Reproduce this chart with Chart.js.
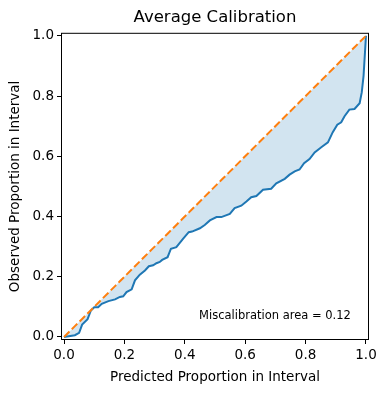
<!DOCTYPE html>
<html>
<head>
<meta charset="utf-8">
<script src="https://cdn.jsdelivr.net/npm/chart.js@4.4.0/dist/chart.umd.min.js"></script>
<style>
  body { margin: 0; background: #fff; }
  #wrap { width: 387px; height: 393px; }
</style>
</head>
<body>
<div id="wrap"><canvas id="calChart" width="387" height="393"></canvas></div>
<script>
// Valores
const predicted = [0, 0.036, 0.05, 0.06, 0.078, 0.089, 0.1, 0.113, 0.125, 0.147, 0.169, 0.185, 0.196, 0.207,
  0.224, 0.235, 0.251, 0.268, 0.281, 0.295, 0.306, 0.317, 0.325, 0.343, 0.354, 0.372, 0.394, 0.413,
  0.424, 0.45, 0.466, 0.483, 0.505, 0.521, 0.549, 0.565, 0.587, 0.604, 0.62, 0.637, 0.659, 0.686,
  0.703, 0.731, 0.747, 0.764, 0.78, 0.795, 0.813, 0.83, 0.852, 0.874, 0.89, 0.905, 0.918, 0.929,
  0.945, 0.962, 0.979, 0.986, 0.992, 1.0];
const observed = [0, 0.006, 0.014, 0.041, 0.059, 0.088, 0.099, 0.099, 0.11, 0.119, 0.125, 0.133, 0.135, 0.149,
  0.158, 0.188, 0.207, 0.221, 0.235, 0.238, 0.245, 0.249, 0.256, 0.265, 0.293, 0.298, 0.326, 0.348,
  0.35, 0.361, 0.372, 0.387, 0.398, 0.398, 0.409, 0.428, 0.436, 0.45, 0.464, 0.468, 0.489, 0.492,
  0.51, 0.525, 0.539, 0.55, 0.556, 0.577, 0.591, 0.613, 0.63, 0.646, 0.68, 0.705, 0.713, 0.733,
  0.755, 0.757, 0.776, 0.812, 0.867, 1.0];
const tickValues = [0, 0.2, 0.4, 0.6, 0.8, 1.0];
const miscalArea = 0.12;

const font = "'DejaVu Sans', sans-serif";

// Pontos das duas curvas
const curvePoints = predicted.map((p, i) => ({ x: p, y: observed[i] }));
const idealPoints = predicted.map(p => ({ x: p, y: p }));

// Plugin: moldura completa e texto da área
const boxAndText = {
  id: 'boxAndText',
  afterDraw(chart) {
    const { ctx, chartArea, scales } = chart;
    ctx.save();
    ctx.strokeStyle = '#000';
    ctx.lineWidth = 1;
    ctx.strokeRect(chartArea.left + 0.5, chartArea.top + 0.5,
      chartArea.right - chartArea.left - 1, chartArea.bottom - chartArea.top - 1);
    ctx.fillStyle = '#000';
    ctx.font = '11.5px ' + font;
    ctx.textAlign = 'right';
    ctx.textBaseline = 'bottom';
    ctx.fillText('Miscalibration area = ' + miscalArea.toFixed(2),
      scales.x.getPixelForValue(0.95), scales.y.getPixelForValue(0.05));
    ctx.restore();
  }
};

function axisOptions(label, isX) {
  return {
    type: 'linear',
    min: -0.01,
    max: 1.01,
    afterBuildTicks: (s) => { s.ticks = tickValues.map(v => ({ value: v })); },
    afterFit: (s) => {
      if (isX) s.height = 53; else s.width = 61;
    },
    grid: { display: true, drawOnChartArea: false, drawTicks: true, tickLength: 4, color: '#000', lineWidth: 1 },
    border: { display: false },
    ticks: {
      color: '#000',
      font: { family: font, size: 13.5 },
      padding: 3,
      maxRotation: 0,
      callback: v => v.toFixed(1)
    },
    title: {
      display: true,
      text: label,
      color: '#000',
      font: { family: font, size: 13.5 },
      padding: isX ? { top: 2, bottom: 7 } : { top: 7, bottom: 2 }
    }
  };
}

new Chart(document.getElementById('calChart'), {
  type: 'line',
  data: {
    datasets: [
      {
        label: 'ideal',
        data: idealPoints,
        borderColor: '#ff7f0e',
        borderWidth: 2,
        borderDash: [7.7, 3.3],
        pointRadius: 0,
        fill: false,
        order: 0
      },
      {
        label: 'observed',
        data: curvePoints,
        borderColor: '#1f77b4',
        borderWidth: 2,
        pointRadius: 0,
        fill: { target: 0 },
        backgroundColor: 'rgba(31,119,180,0.2)',
        order: 1
      }
    ]
  },
  options: {
    responsive: false,
    animation: false,
    layout: { padding: { left: 0, right: 18, top: 0, bottom: 0 } },
    plugins: {
      legend: { display: false },
      tooltip: { enabled: false },
      title: {
        display: true,
        text: 'Average Calibration',
        color: '#000',
        fullSize: false,
        font: { family: font, size: 16.5, weight: 'normal' },
        padding: { top: 8, bottom: 5 }
      },
      filler: { propagate: false }
    },
    scales: {
      x: axisOptions('Predicted Proportion in Interval', true),
      y: axisOptions('Observed Proportion in Interval', false)
    }
  },
  plugins: [boxAndText]
});
</script>
</body>
</html>
